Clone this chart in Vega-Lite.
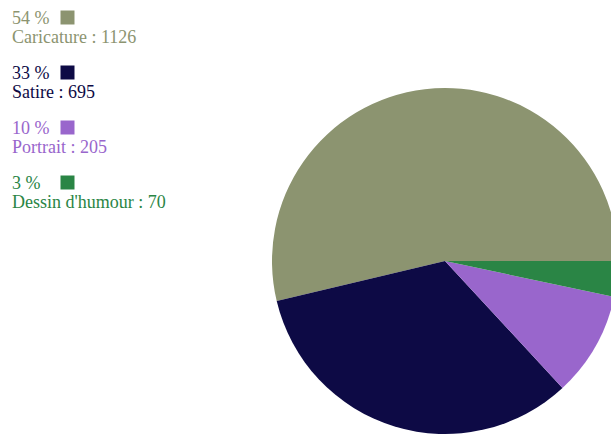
{
  "$schema": "https://vega.github.io/schema/vega-lite/v6.json",
  "padding": {"left": 12, "top": 0, "right": 0, "bottom": 0},
  "config": {"view": {"stroke": null}, "font": "Liberation Serif"},
  "data": {
    "values": [
      {"category": "Caricature", "value": 1126, "pct": "54 %", "label": "Caricature : 1126", "rank": 1},
      {"category": "Satire", "value": 695, "pct": "33 %", "label": "Satire : 695", "rank": 2},
      {"category": "Portrait", "value": 205, "pct": "10 %", "label": "Portrait : 205", "rank": 3},
      {"category": "Dessin d'humour", "value": 70, "pct": "3 %", "label": "Dessin d'humour : 70", "rank": 4}
    ]
  },
  "spacing": 0,
  "hconcat": [
    {
      "width": 160,
      "height": 220,
      "encoding": {
        "y": {"field": "category", "type": "nominal", "sort": {"field": "rank"}, "axis": null,
              "scale": {"paddingInner": 0, "paddingOuter": 0}},
        "x": {"datum": 0, "type": "quantitative", "axis": null, "scale": {"domain": [0, 1]}},
        "color": {"field": "category", "type": "nominal", "legend": null,
                  "scale": {"domain": ["Caricature", "Satire", "Portrait", "Dessin d'humour"],
                            "range": ["#8c9470", "#0d0a45", "#9966cc", "#2a8545"]}}
      },
      "layer": [
        {"mark": {"type": "text", "align": "left", "baseline": "alphabetic", "fontSize": 18, "dy": -3.5},
         "encoding": {"text": {"field": "pct"}}},
        {"mark": {"type": "text", "align": "left", "baseline": "alphabetic", "fontSize": 18, "dy": 15.5},
         "encoding": {"text": {"field": "label"}}},
        {"mark": {"type": "point", "shape": "square", "filled": true, "opacity": 1, "size": 196, "xOffset": 55.5, "yOffset": -10},
         "encoding": {}}
      ]
    },
    {
      "width": 546,
      "height": 522,
      "mark": {"type": "arc", "outerRadius": 173},
      "encoding": {
        "theta": {"field": "value", "type": "quantitative", "stack": true,
                  "scale": {"range": [1.5707963, -4.712389]}},
        "order": {"field": "rank", "type": "quantitative"},
        "color": {"field": "category", "type": "nominal", "legend": null,
                  "scale": {"domain": ["Caricature", "Satire", "Portrait", "Dessin d'humour"],
                            "range": ["#8c9470", "#0d0a45", "#9966cc", "#2a8545"]}}
      }
    }
  ]
}
